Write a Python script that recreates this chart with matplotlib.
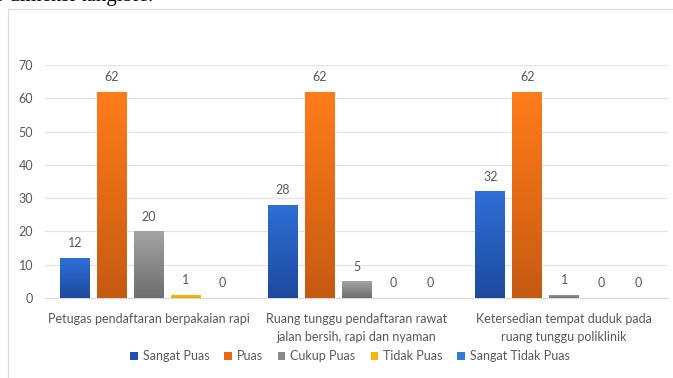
import matplotlib
matplotlib.use("Agg")
import matplotlib.pyplot as plt
import numpy as np
from matplotlib.patches import Rectangle
from matplotlib.colors import LinearSegmentedColormap

categories = ["Petugas pendaftaran berpakaian rapi",
              "Ruang tunggu pendaftaran rawat\njalan bersih, rapi dan nyaman",
              "Ketersedian tempat duduk pada\nruang tunggu poliklinik"]
series_names = ["Sangat Puas", "Puas", "Cukup Puas", "Tidak Puas", "Sangat Tidak Puas"]
sangat_puas = [12, 28, 32]
puas = [62, 62, 62]
cukup_puas = [20, 5, 1]
tidak_puas = [1, 0, 0]
sangat_tidak_puas = [0, 0, 0]
values = [sangat_puas, puas, cukup_puas, tidak_puas, sangat_tidak_puas]
yticks = [0, 10, 20, 30, 40, 50, 60, 70]

top_colors = ["#2F6FD6", "#FF7C1A", "#A3A3A3", "#FFC21A", "#3A86D9"]
bot_colors = ["#1E4A9E", "#C65A12", "#6E6E6E", "#E8A800", "#2A66B0"]
legend_colors = ["#2150B0", "#E9691A", "#8A8A8A", "#F5B800", "#2E7BCF"]

plt.rcParams['font.family'] = ['Lato', 'DejaVu Sans']
fig = plt.figure(figsize=(6.73, 3.78), dpi=100)
fig.patch.set_facecolor("white")

# frame border
fig.patches.append(Rectangle((8/673, -0.1), 1.0, 1 - 9/378 + 0.1, transform=fig.transFigure,
                             fill=False, edgecolor="#D9D9E6", linewidth=0.8))
fig.text(-0.005, 1 - 1.2/378, "r dimensi tangible.", family="Liberation Serif", fontsize=15,
         va="baseline", ha="left", color="black")

ax = fig.add_axes([45/673, 1 - 298/378, 623/673, 233/378])
ax.set_xlim(-0.5, 2.5)
ax.set_ylim(0, 70)
ax.set_yticks(yticks)
ax.yaxis.grid(True, color="#E3E3E3", linewidth=0.9)
ax.set_axisbelow(True)
for s in ["top", "right", "left"]:
    ax.spines[s].set_visible(False)
ax.spines["bottom"].set_color("#D9D9D9")
ax.tick_params(axis="both", length=0, colors="#595959", labelsize=9)
ax.tick_params(axis="y", pad=8.6)

x = np.arange(len(categories))
step = 37/208
width = 30/208
grad = np.linspace(0, 1, 100).reshape(-1, 1)
for i, (name, vals) in enumerate(zip(series_names, values)):
    pos = x + (i - 2) * step
    bars = ax.bar(pos, vals, width, color=legend_colors[i], label=name, zorder=2)
    cmap = LinearSegmentedColormap.from_list("g%d" % i, [bot_colors[i], top_colors[i]])
    for b, v in zip(bars, vals):
        if v > 0:
            im = ax.imshow(grad, cmap=cmap, aspect="auto", origin="lower",
                           extent=[b.get_x(), b.get_x() + b.get_width(), 0, v], zorder=3)
            im.set_clip_path(b)
        ax.text(b.get_x() + b.get_width()/2, v + 2.6, str(v), ha="center", va="bottom",
                fontsize=9, color="#595959", zorder=4)
ax.set_xlim(-0.5, 2.5)
ax.set_ylim(0, 70)
ax.set_xticks(x)
ax.set_xticklabels(categories, linespacing=1.55)
ax.tick_params(axis="x", pad=11)

leg = fig.legend(loc="center", bbox_to_anchor=(350/673, 1 - 356/378), ncol=5, frameon=False,
                 fontsize=9, handlelength=0.6, handleheight=0.6, handletextpad=0.4,
                 columnspacing=1.2, labelcolor="#595959")

fig.savefig("out.png", dpi=100)
